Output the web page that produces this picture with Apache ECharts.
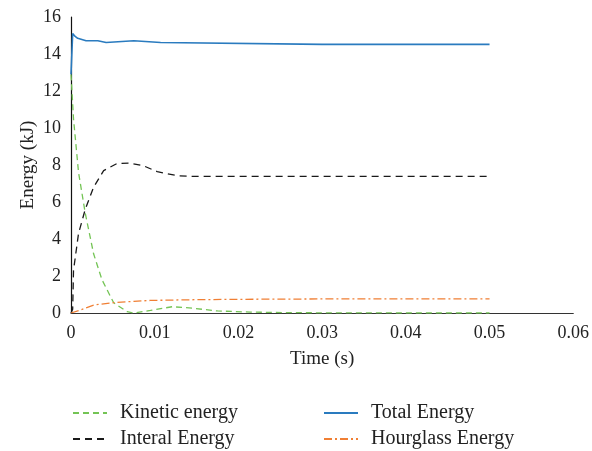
<!DOCTYPE html>
<html><head><meta charset="utf-8">
<script src="https://cdn.jsdelivr.net/npm/echarts@6/dist/echarts.min.js"></script>
<style>html,body{margin:0;padding:0;background:#fff}#c{width:592px;height:451px}</style>
</head><body><div id="c"></div>
<script>
const xTicks = [0, 0.01, 0.02, 0.03, 0.04, 0.05, 0.06];
const yTicks = [0, 2, 4, 6, 8, 10, 12, 14, 16];
const seriesNames = ['Kinetic energy', 'Interal Energy', 'Total Energy', 'Hourglass Energy'];
const kinetic = [[0,12.9],[0.0003,10.5],[0.0009,7.6],[0.0017,5.4],[0.0027,3.2],[0.0037,1.8],[0.0051,0.55],[0.0067,0.07],[0.0075,0.0],[0.0095,0.14],[0.0121,0.34],[0.0145,0.26],[0.0175,0.11],[0.0214,0.05],[0.026,0.02],[0.03,0.01],[0.04,0],[0.05,0]];
const internal = [[0,0],[0.0002,0.2],[0.0003,2.3],[0.0009,4.3],[0.0017,5.6],[0.0027,6.8],[0.0039,7.7],[0.0055,8.08],[0.0071,8.1],[0.0087,7.95],[0.0103,7.64],[0.0127,7.42],[0.015,7.38],[0.02,7.38],[0.03,7.38],[0.04,7.38],[0.05,7.38]];
const total = [[0,12.9],[0.0002,15.1],[0.0005,14.95],[0.0008,14.85],[0.0012,14.8],[0.0018,14.72],[0.0032,14.72],[0.0033,14.62],[0.0042,14.62],[0.0043,14.72],[0.0075,14.72],[0.0076,14.62],[0.0107,14.62],[0.0108,14.52],[0.03,14.52],[0.05,14.52]];
const hourglass = [[0,0],[0.0011,0.16],[0.0027,0.43],[0.0051,0.56],[0.0075,0.63],[0.0095,0.68],[0.015,0.72],[0.02,0.74],[0.03,0.76],[0.05,0.76]];

const FONT = 'Liberation Serif';
const chart = echarts.init(document.getElementById('c'));
function mk(name, data, color, type, width){
  return {name, type:'line', data, symbol:'none', showSymbol:false, smooth:false,
    lineStyle:{color, width, type}, itemStyle:{color}, animation:false};
}
function leg(name, left, top){
  return {data:[name], orient:'horizontal', left, top,
    itemWidth:34, itemHeight:14, itemStyle:{opacity:0, borderWidth:0},
    textStyle:{fontFamily:FONT, fontSize:20, color:'#222', padding:[0,0,0,8]}};
}
chart.setOption({
  animation:false,
  grid:{left:71, right:18, top:17, bottom:138},
  xAxis:{type:'value', min:0, max:0.06, interval:0.01,
    name:'Time (s)', nameLocation:'middle', nameGap:37, nameMoveOverlap:false,
    nameTextStyle:{fontFamily:FONT, fontSize:19, color:'#222'},
    axisLine:{lineStyle:{color:'#333', width:1.2}}, axisTick:{show:false}, splitLine:{show:false},
    axisLabel:{fontFamily:FONT, fontSize:18, color:'#222', margin:11,
      formatter:v=>{const i=xTicks.findIndex(t=>Math.abs(t-v)<1e-9);return i===0?'0':xTicks[i].toFixed(2);}}},
  yAxis:{type:'value', min:0, max:16, interval:2,
    name:'Energy (kJ)', nameLocation:'middle', nameGap:33, nameMoveOverlap:false,
    nameTextStyle:{fontFamily:FONT, fontSize:19, color:'#222'},
    axisLine:{show:true, lineStyle:{color:'#111', width:1.2}}, axisTick:{show:false}, splitLine:{show:false},
    axisLabel:{fontFamily:FONT, fontSize:18, color:'#222', margin:10,
      formatter:v=>String(yTicks[yTicks.indexOf(v)])}},
  legend:[
    leg(seriesNames[0], 67, 398),
    leg(seriesNames[1], 67, 424),
    leg(seriesNames[2], 318, 398),
    leg(seriesNames[3], 318, 424)
  ],
  series:[
    mk(seriesNames[0], kinetic, '#74c455', [6,4], 1.3),
    mk(seriesNames[1], internal, '#1a1a1a', [7,5], 1.3),
    mk(seriesNames[2], total, '#2a7bbf', 'solid', 1.6),
    mk(seriesNames[3], hourglass, '#f07f34', [8,3,2,3], 1.3)
  ]
});
</script></body></html>
